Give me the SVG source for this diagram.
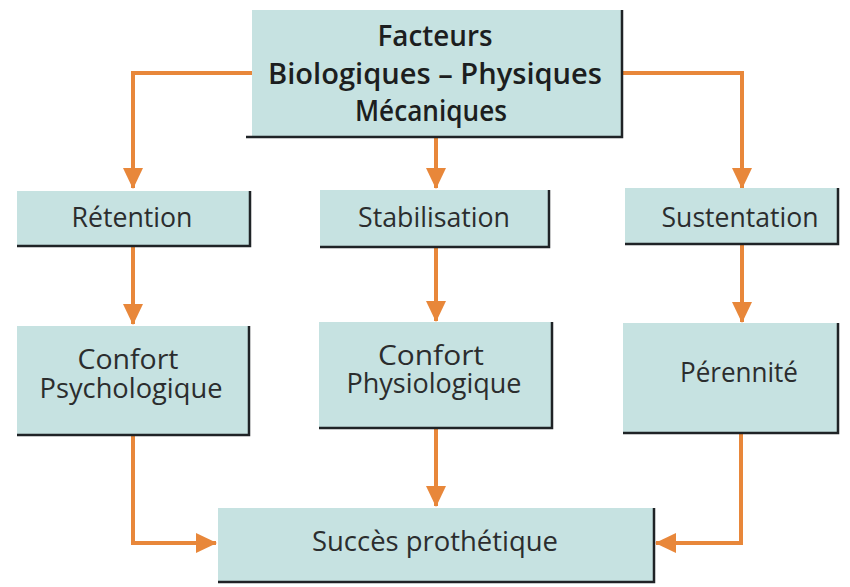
<svg xmlns="http://www.w3.org/2000/svg" width="850" height="587" viewBox="0 0 850 587">
<style>
.box{fill:#c6e2e1}
.edge{fill:none;stroke:#1f2326;stroke-width:2.5}
.t{font-family:"Open Sans","Liberation Sans",sans-serif;font-size:27px;fill:#2b2d2e;text-anchor:middle}
.b{font-weight:600;font-size:29px;fill:#1c1e20}
.c{fill:none;stroke:#e8873a;stroke-width:4}
</style>
<defs>
<marker id="ah" markerUnits="userSpaceOnUse" markerWidth="22" markerHeight="22" viewBox="0 0 22 22" refX="20" refY="11" orient="auto">
<path d="M0,1 L21,11 L0,21 Z" fill="#e8873a"/>
</marker>
</defs>
<rect width="850" height="587" fill="#ffffff"/>
<g id="connectors">
<polyline class="c" points="252,73 133,73 133,188" marker-end="url(#ah)"/>
<polyline class="c" points="436,137 436,188" marker-end="url(#ah)"/>
<polyline class="c" points="622,73 742,73 742,188" marker-end="url(#ah)"/>
<polyline class="c" points="133,246 133,324" marker-end="url(#ah)"/>
<polyline class="c" points="436,247 436,321" marker-end="url(#ah)"/>
<polyline class="c" points="742,244 742,322" marker-end="url(#ah)"/>
<polyline class="c" points="133,435 133,543 216,543" marker-end="url(#ah)"/>
<polyline class="c" points="436,428 436,506" marker-end="url(#ah)"/>
<polyline class="c" points="741,433 741,543 656,543" marker-end="url(#ah)"/>
</g>
<g id="facteurs">
<rect class="box" x="252" y="10" width="370" height="127"/>
<polyline class="edge" points="622,10 622,137 246,137"/>
<text class="t b" x="435" y="46" textLength="115" lengthAdjust="spacingAndGlyphs">Facteurs</text>
<text class="t b" x="435" y="84" textLength="334" lengthAdjust="spacingAndGlyphs">Biologiques – Physiques</text>
<text class="t b" x="431" y="121" textLength="152" lengthAdjust="spacingAndGlyphs">Mécaniques</text>
</g>
<g id="retention">
<rect class="box" x="17" y="191" width="233" height="55"/>
<polyline class="edge" points="250,191 250,246 17,246"/>
<text class="t" x="132" y="227" textLength="121" lengthAdjust="spacingAndGlyphs">Rétention</text>
</g>
<g id="stabilisation">
<rect class="box" x="320" y="190" width="229" height="57"/>
<polyline class="edge" points="549,190 549,247 320,247"/>
<text class="t" x="434" y="227" textLength="152" lengthAdjust="spacingAndGlyphs">Stabilisation</text>
</g>
<g id="sustentation">
<rect class="box" x="625" y="188" width="213" height="56"/>
<polyline class="edge" points="838,188 838,244 625,244"/>
<text class="t" x="740" y="227" textLength="157" lengthAdjust="spacingAndGlyphs">Sustentation</text>
</g>
<g id="confort-psy">
<rect class="box" x="17" y="326" width="232" height="109"/>
<polyline class="edge" points="249,326 249,435 17,435"/>
<text class="t" x="128" y="369" textLength="101" lengthAdjust="spacingAndGlyphs">Confort</text>
<text class="t" x="131" y="398" textLength="183" lengthAdjust="spacingAndGlyphs">Psychologique</text>
</g>
<g id="confort-phy">
<rect class="box" x="319" y="322" width="233" height="106"/>
<polyline class="edge" points="552,322 552,428 319,428"/>
<text class="t" x="431" y="365" textLength="106" lengthAdjust="spacingAndGlyphs">Confort</text>
<text class="t" x="434" y="393" textLength="175" lengthAdjust="spacingAndGlyphs">Physiologique</text>
</g>
<g id="perennite">
<rect class="box" x="623" y="323" width="215" height="110"/>
<polyline class="edge" points="838,323 838,433 623,433"/>
<text class="t" x="739" y="382" textLength="118" lengthAdjust="spacingAndGlyphs">Pérennité</text>
</g>
<g id="succes">
<rect class="box" x="218" y="508" width="436" height="74"/>
<polyline class="edge" points="654,508 654,582 218,582"/>
<text class="t" x="435" y="551" textLength="246" lengthAdjust="spacingAndGlyphs">Succès prothétique</text>
</g>
</svg>
